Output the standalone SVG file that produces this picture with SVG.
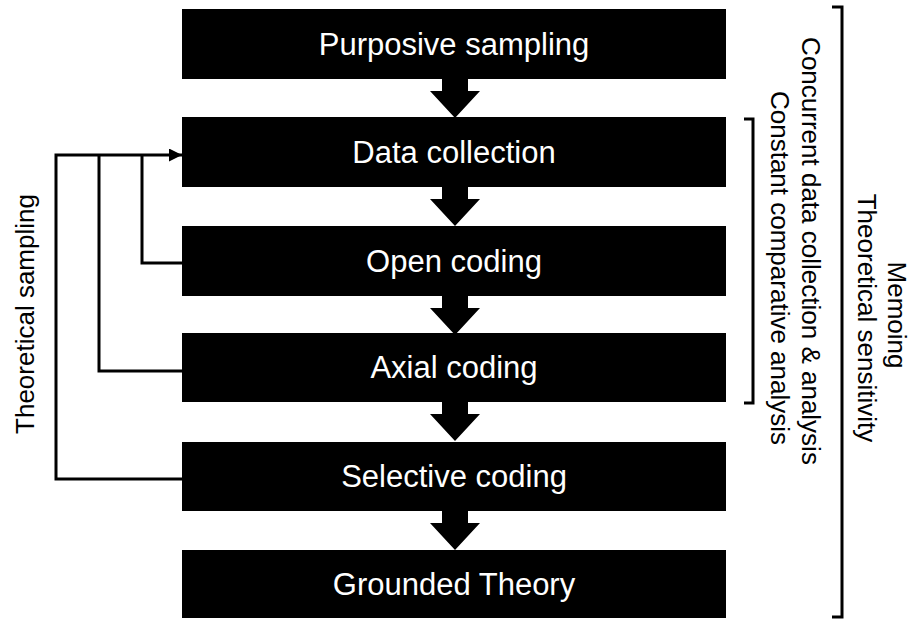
<svg xmlns="http://www.w3.org/2000/svg" width="916" height="619" viewBox="0 0 916 619">
  <style>
    .box { fill: #000; }
    .lbl { font-family: "Liberation Sans", Arial, sans-serif; font-size: 31px; fill: #fff; text-anchor: middle; }
    .side { font-family: "Liberation Sans", Arial, sans-serif; font-size: 26px; fill: #000; text-anchor: middle; }
    .flow { fill: #000; }
    .wire { fill: none; stroke: #000; stroke-width: 3; }
  </style>
  <defs>
    <marker id="tip" markerUnits="userSpaceOnUse" markerWidth="14" markerHeight="13" refX="13" refY="6.5" orient="auto">
      <path d="M0,0 L13,6.5 L0,13 Z" fill="#000"/>
    </marker>
    <!-- block arrow between stacked steps, drawn from y=0 down to the tip -->
    <path id="down" d="M-13,0 H13 V12 H25 L0,39 L-25,12 H-13 Z"/>
  </defs>
  <rect width="916" height="619" fill="#fff"/>

  <g id="purposive-sampling">
    <rect class="box" x="182" y="9" width="544" height="70"/>
    <text class="lbl" x="454" y="55">Purposive sampling</text>
  </g>
  <g id="data-collection">
    <rect class="box" x="182" y="117" width="544" height="70"/>
    <text class="lbl" x="454" y="163">Data collection</text>
  </g>
  <g id="open-coding">
    <rect class="box" x="182" y="226" width="544" height="70"/>
    <text class="lbl" x="454" y="272">Open coding</text>
  </g>
  <g id="axial-coding">
    <rect class="box" x="182" y="333" width="544" height="69"/>
    <text class="lbl" x="454" y="378">Axial coding</text>
  </g>
  <g id="selective-coding">
    <rect class="box" x="182" y="442" width="544" height="69"/>
    <text class="lbl" x="454" y="487">Selective coding</text>
  </g>
  <g id="grounded-theory">
    <rect class="box" x="182" y="550" width="544" height="68"/>
    <text class="lbl" x="454" y="595">Grounded Theory</text>
  </g>

  <g id="connectors">
    <use href="#down" class="flow" x="455" y="79"/>
    <use href="#down" class="flow" x="455" y="187"/>
    <use href="#down" class="flow" x="455" y="296"/>
    <use href="#down" class="flow" x="455" y="402"/>
    <use href="#down" class="flow" x="455" y="511"/>
    <!-- theoretical sampling feedback loops -->
    <path class="wire" d="M182,479 H56 V155 H182" marker-end="url(#tip)"/>
    <path class="wire" d="M182,371 H99 V155"/>
    <path class="wire" d="M182,263 H142 V155"/>
  </g>

  <g id="brackets">
    <path class="wire" d="M744,119 H753 V403 H744"/>
    <path class="wire" d="M832,7 H842 V617 H832"/>
  </g>

  <g id="annotations">
    <text class="side" font-size="25" transform="translate(34,314) rotate(-90)">Theoretical sampling</text>
    <text class="side" font-size="25" transform="translate(771,268) rotate(90)">Constant comparative analysis</text>
    <text class="side" font-size="27.5" transform="translate(802,251) rotate(90)">Concurrent data collection &amp; analysis</text>
    <text class="side" transform="translate(858,318) rotate(90)">Theoretical sensitivity</text>
    <text class="side" transform="translate(888,315) rotate(90)">Memoing</text>
  </g>
</svg>
